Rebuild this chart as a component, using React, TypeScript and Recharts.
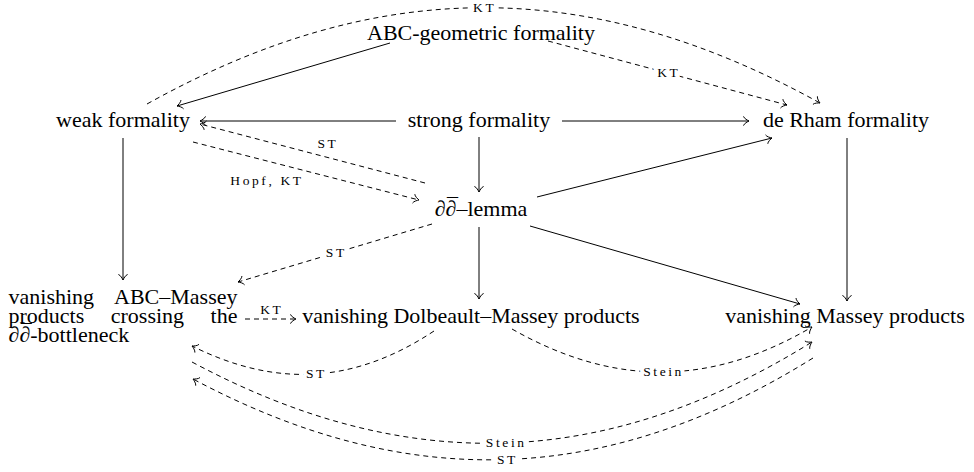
import React from 'react';
import { ScatterChart, Scatter, XAxis, YAxis, ReferenceLine } from 'recharts';

// nodes of the diagram: centre x, text baseline y  (∂̄ is written as ∂ followed by a combining macron)
const nodeNames = [
  'ABC-geometric formality',
  'weak formality',
  'strong formality',
  'de Rham formality',
  '∂∂\u0304–lemma',
  'vanishing ABC–Massey\nproducts crossing the\n∂∂\u0304-bottleneck',
  'vanishing Dolbeault–Massey products',
  'vanishing Massey products',
];
const nodeX = [481, 123, 479, 846, 481, 123, 471, 845];
const nodeY = [40, 127, 127, 127, 216, 304, 323, 323];

// implications: tail point, head point, bend angle (deg, + bends left), condition
const edgeTail: [number, number][] = [
  [390, 43], [548, 41], [147, 104], [396, 121], [562, 121], [479, 137], [425, 183],
  [193, 142], [537, 197], [123, 138], [432, 224], [479, 227], [530, 226], [847, 138],
  [245, 319], [434, 331], [512, 329], [192, 362], [813, 358],
];
const edgeHead: [number, number][] = [
  [177, 106], [787, 105], [820, 103], [200, 121], [749, 121], [479, 192], [200, 124],
  [419, 200], [772, 138], [123, 280], [238, 282], [479, 299], [800, 304], [847, 301],
  [296, 319], [192, 346], [812, 327], [812, 342], [193, 379],
];
const edgeBend = [0, 0, 29, 0, 0, 0, 0, 0, 0, 0, 0, 0, 0, 0, 0, 30, -30, -30, 30];
const edgeLabels = ['', 'KT', 'KT', '', '', '', 'ST', 'Hopf, KT', '', '', 'ST', '', '', '', 'KT', 'ST', 'Stein', 'Stein', 'ST'];
const edgeLabelSide = ['on', 'on', 'on', 'on', 'on', 'on', 'right', 'right', 'on', 'on', 'on', 'on', 'on', 'on', 'left', 'on', 'on', 'on', 'on'];

const FONT = "'Liberation Serif', 'DejaVu Serif', serif";
const TEXT_SIZE = 22;
const LINE_H = 19;
const BLOCK_W = 229;
const LABEL_SIZE = 13.5;
const LABEL_SPACING = 2.6;

let ctx: CanvasRenderingContext2D | null = null;
const measure = (s: string, size: number, spacing = 0, italic = false) => {
  if (!ctx) ctx = document.createElement('canvas').getContext('2d');
  if (!ctx) return s.length * size * 0.5;
  ctx.font = `${italic ? 'italic ' : ''}${size}px ${FONT}`;
  return ctx.measureText(s).width + spacing * Math.max(s.length - 1, 0);
};

// ∂ in italic; for ∂̄ a macron is set back over the ∂ and the pen is restored afterwards
const MathText = ({ text }: { text: string }) => {
  const parts = text.split(/(∂\u0304?)/).filter(Boolean);
  const out: React.ReactNode[] = [];
  let pendingDx = 0;
  let pendingDy = 0;
  parts.forEach((p, i) => {
    const lead = { dx: pendingDx || undefined, dy: pendingDy || undefined };
    pendingDx = 0;
    pendingDy = 0;
    if (p === '∂\u0304') {
      const wd = measure('∂', TEXT_SIZE, 0, true);
      const wm = measure('\u00AF', TEXT_SIZE);
      const back = -(wd + wm) / 2 + 1.5;
      out.push(<tspan key={`${i}a`} {...lead} fontStyle="italic">∂</tspan>);
      out.push(<tspan key={`${i}b`} dx={back} dy={-3.5}>{'\u00AF'}</tspan>);
      pendingDx = (wd - wm) / 2 - 1.5;
      pendingDy = 3.5;
    } else if (p === '∂') {
      out.push(<tspan key={i} {...lead} fontStyle="italic">∂</tspan>);
    } else {
      out.push(<tspan key={i} {...lead}>{p}</tspan>);
    }
  });
  return <>{out}</>;
};

const NodeShape = (props: any) => {
  const { cx, cy, payload } = props;
  const lines: string[] = payload.name.split('\n');
  const common = { style: { fontFamily: FONT, fontSize: TEXT_SIZE }, fill: '#000' };
  if (lines.length === 1) {
    return (
      <text x={cx} y={cy} textAnchor="middle" {...common}>
        <MathText text={lines[0]} />
      </text>
    );
  }
  const left = cx - BLOCK_W / 2;
  return (
    <g>
      {lines.map((line, li) => {
        const y = cy + li * LINE_H;
        const words = line.split(' ');
        if (li === lines.length - 1 || words.length === 1) {
          return (
            <text key={li} x={left} y={y} {...common}>
              <MathText text={line} />
            </text>
          );
        }
        // justified line
        const widths = words.map((w) => measure(w, TEXT_SIZE));
        const gap = (BLOCK_W - widths.reduce((a, b) => a + b, 0)) / (words.length - 1);
        let x = left;
        return words.map((w, wi) => {
          const el = (
            <text key={`${li}-${wi}`} x={x} y={y} {...common}>
              {w}
            </text>
          );
          x += widths[wi] + gap;
          return el;
        });
      })}
    </g>
  );
};

const arrowHead = (x: number, y: number, ux: number, uy: number) => {
  const nx = -uy;
  const ny = ux;
  const pt = (a: number, b: number) => `${x + ux * a + nx * b},${y + uy * a + ny * b}`;
  return `M${pt(-5.5, 4.6)} C${pt(-5, 2.6)} ${pt(-1.2, 0.5)} ${pt(0, 0)} C${pt(-1.2, -0.5)} ${pt(-5, -2.6)} ${pt(-5.5, -4.6)}`;
};

const edgeShape = (bend: number, label: string, side: string) => (p: any) => {
  const { x1, y1, x2, y2 } = p;
  const dx = x2 - x1;
  const dy = y2 - y1;
  const len = Math.hypot(dx, dy);
  const ux = dx / len;
  const uy = dy / len;
  // visual left normal (screen y points down)
  const lx = uy;
  const ly = -ux;
  const a = (bend * Math.PI) / 180;
  const d = 0.3915 * len;
  const c1x = x1 + d * (Math.cos(a) * ux + Math.sin(a) * lx);
  const c1y = y1 + d * (Math.cos(a) * uy + Math.sin(a) * ly);
  const c2x = x2 - d * Math.cos(a) * ux + d * Math.sin(a) * lx;
  const c2y = y2 - d * Math.cos(a) * uy + d * Math.sin(a) * ly;
  const path = bend
    ? `M${x1},${y1} C${c1x},${c1y} ${c2x},${c2y} ${x2},${y2}`
    : `M${x1},${y1} L${x2},${y2}`;
  const hx = x2 - (bend ? c2x : x1);
  const hy = y2 - (bend ? c2y : y1);
  const hl = Math.hypot(hx, hy);

  let labelEl = null;
  if (label) {
    const mx = bend ? 0.125 * x1 + 0.375 * c1x + 0.375 * c2x + 0.125 * x2 : (x1 + x2) / 2;
    const my = bend ? 0.125 * y1 + 0.375 * c1y + 0.375 * c2y + 0.125 * y2 : (y1 + y2) / 2;
    const w = measure(label, LABEL_SIZE, LABEL_SPACING);
    let ox = 0;
    let oy = 0;
    if (side !== 'on') {
      const s = side === 'left' ? 1 : -1;
      const nx = s * lx;
      const ny = s * ly;
      const sep = 5;
      if (Math.abs(nx) > 0.01) ox = Math.sign(nx) * (w / 2 + sep);
      if (Math.abs(ny) > 0.01) oy = Math.sign(ny) * (4.5 + sep);
    }
    labelEl = (
      <text
        x={mx + ox + LABEL_SPACING / 2}
        y={my + oy + 4.4}
        textAnchor="middle"
        style={{ fontFamily: FONT, fontSize: LABEL_SIZE, letterSpacing: LABEL_SPACING }}
        fill="#000"
        stroke={side === 'on' ? '#fff' : 'none'}
        strokeWidth={side === 'on' ? 8 : 0}
        paintOrder="stroke"
      >
        {label}
      </text>
    );
  }

  return (
    <g>
      <path d={path} fill="none" stroke="#000" strokeWidth={1} strokeDasharray={label ? '5 4' : undefined} />
      <path d={arrowHead(x2, y2, hx / hl, hy / hl)} fill="none" stroke="#000" strokeWidth={1} />
      {labelEl}
    </g>
  );
};

const nodes = nodeNames.map((name, i) => ({ name, x: nodeX[i], y: nodeY[i] }));

const App: React.FC = () => (
  <div style={{ position: 'absolute', left: 0, top: 0, width: 974, height: 472, background: '#fff' }}>
    <ScatterChart width={974} height={472} margin={{ top: 0, right: 0, bottom: 0, left: 0 }}>
      <XAxis type="number" dataKey="x" domain={[0, 974]} allowDataOverflow hide />
      <YAxis type="number" dataKey="y" domain={[0, 472]} allowDataOverflow reversed hide />
      {edgeTail.map((t, i) => (
        <ReferenceLine
          key={`edge-${i}`}
          segment={[{ x: t[0], y: t[1] }, { x: edgeHead[i][0], y: edgeHead[i][1] }]}
          ifOverflow="visible"
          shape={edgeShape(edgeBend[i], edgeLabels[i], edgeLabelSide[i])}
        />
      ))}
      <Scatter data={nodes} shape={NodeShape} isAnimationActive={false} />
    </ScatterChart>
  </div>
);

export default App;
